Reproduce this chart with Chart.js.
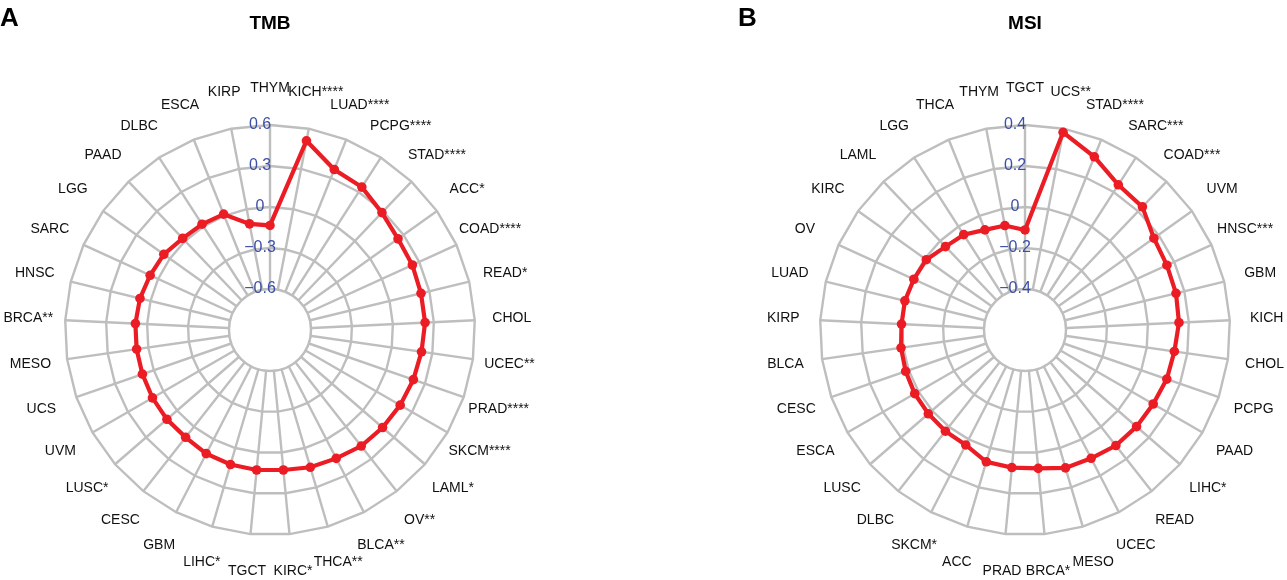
<!DOCTYPE html>
<html>
<head>
<meta charset="utf-8">
<script src="https://cdn.jsdelivr.net/npm/chart.js@4.4.0/dist/chart.umd.min.js"></script>
<style>
  body { margin: 0; background: #fff; font-family: "Liberation Sans", Arial, sans-serif; }
  #wrap { position: relative; width: 1287px; height: 580px; overflow: hidden; }
  .box { position: absolute; top: 0; height: 580px; }
  .tag { position: absolute; font-weight: bold; font-size: 26px; line-height: 26px; color: #000; }
  .ttl { position: absolute; font-weight: bold; font-size: 19px; line-height: 19px; color: #000; width: 200px; text-align: center; }
</style>
</head>
<body>
<div id="wrap">
  <div class="box" style="left:0;width:640px"><canvas id="grafTMB"></canvas></div>
  <div class="box" style="left:640px;width:647px"><canvas id="grafMSI"></canvas></div>
  <div class="tag" style="left:0;top:4px">A</div>
  <div class="tag" style="left:738px;top:4px">B</div>
  <div class="ttl" style="left:170px;top:13px">TMB</div>
  <div class="ttl" style="left:925px;top:13px">MSI</div>
</div>
<script>
// TMB
const categoriasTMB = ['THYM', 'KICH****', 'LUAD****', 'PCPG****', 'STAD****', 'ACC*', 'COAD****', 'READ*', 'CHOL',
    'UCEC**', 'PRAD****', 'SKCM****', 'LAML*', 'OV**', 'BLCA**', 'THCA**', 'KIRC*', 'TGCT', 'LIHC*', 'GBM', 'CESC',
    'LUSC*', 'UVM', 'UCS', 'MESO', 'BRCA**', 'HNSC', 'SARC', 'LGG', 'PAAD', 'DLBC', 'ESCA', 'KIRP'];
const valoresTMB = [-0.135, 0.51, 0.365, 0.343, 0.287, 0.25, 0.245, 0.237, 0.236, 0.22, 0.21, 0.2, 0.19, 0.18,
    0.157, 0.147, 0.129, 0.129, 0.126, 0.118, 0.099, 0.098, 0.093, 0.088, 0.086, 0.086, 0.079, 0.064, 0.054,
    0.026, 0.02, 0.013, -0.109];
const ticksTMB = [-0.6, -0.3, 0, 0.3, 0.6];
const rotulosTMB = ['\u22120.6', '\u22120.3', '0', '0.3', '0.6'];

// MSI
const categoriasMSI = ['TGCT', 'UCS**', 'STAD****', 'SARC***', 'COAD***', 'UVM', 'HNSC***', 'GBM', 'KICH', 'CHOL',
    'PCPG', 'PAAD', 'LIHC*', 'READ', 'UCEC', 'MESO', 'BRCA*', 'PRAD', 'ACC', 'SKCM*', 'DLBC', 'LUSC', 'ESCA',
    'CESC', 'BLCA', 'KIRP', 'LUAD', 'OV', 'KIRC', 'LAML', 'LGG', 'THCA', 'THYM'];
const valoresMSI = [-0.112, 0.382, 0.31, 0.242, 0.23, 0.172, 0.161, 0.158, 0.152, 0.136, 0.132, 0.122, 0.12, 0.117,
    0.104, 0.101, 0.078, 0.074, 0.07, 0.031, 0.028, 0.024, 0.021, 0.016, 0.011, 0.003, 0.003, -0.004, -0.009,
    -0.038, -0.047, -0.074, -0.081];
const ticksMSI = [-0.4, -0.2, 0, 0.2, 0.4];
const rotulosMSI = ['\u22120.4', '\u22120.2', '0', '0.2', '0.4'];

const CINZA = '#bebebe';
const VERMELHO = '#ec1c24';
const FONTE = '"Liberation Sans", Arial, sans-serif';

// buraco central, rotulos dos ticks e das categorias
const extrasRadar = {
    id: 'extrasRadar',
    beforeDatasetsDraw(chart, args, opts) {
        const s = chart.scales.r;
        const ctx = chart.ctx;
        const r = s.getDistanceFromCenterForValue(opts.buraco);
        ctx.save();
        ctx.beginPath();
        ctx.arc(s.xCenter, s.yCenter, r, 0, Math.PI * 2);
        ctx.fillStyle = '#fff';
        ctx.fill();
        ctx.lineWidth = 2.4;
        ctx.strokeStyle = CINZA;
        ctx.stroke();
        ctx.restore();
    },
    afterDatasetsDraw(chart, args, opts) {
        const s = chart.scales.r;
        const ctx = chart.ctx;
        ctx.save();
        ctx.textAlign = 'center';
        ctx.textBaseline = 'middle';
        ctx.font = '16px ' + FONTE;
        ctx.fillStyle = '#3b4ea8';
        opts.ticks.forEach((v, i) => {
            ctx.fillText(opts.rotulos[i], s.xCenter - 10, s.yCenter - s.getDistanceFromCenterForValue(v));
        });
        ctx.font = '14px ' + FONTE;
        ctx.fillStyle = '#111';
        chart.data.labels.forEach((lab, i) => {
            const p = s.getPointPosition(i, s.drawingArea + 37);
            ctx.fillText(lab, p.x, p.y);
        });
        ctx.restore();
    }
};

function grafico(id, categorias, valores, min, max, passo, ticks, rotulos, padding) {
    return new Chart(document.getElementById(id), {
        type: 'radar',
        data: {
            labels: categorias,
            datasets: [{
                data: valores,
                borderColor: VERMELHO,
                borderWidth: 4.2,
                backgroundColor: VERMELHO,
                pointBackgroundColor: VERMELHO,
                pointBorderColor: VERMELHO,
                pointBorderWidth: 0,
                pointRadius: 4.8,
                fill: false,
                tension: 0
            }]
        },
        options: {
            responsive: true,
            maintainAspectRatio: false,
            animation: false,
            layout: { padding: padding },
            plugins: {
                legend: { display: false },
                tooltip: { enabled: false },
                extrasRadar: { buraco: min + passo, ticks: ticks, rotulos: rotulos }
            },
            scales: {
                r: {
                    min: min,
                    max: max,
                    ticks: { stepSize: passo, display: false },
                    grid: { color: CINZA, lineWidth: 2.4 },
                    angleLines: { color: CINZA, lineWidth: 2.4 },
                    pointLabels: { display: false }
                }
            }
        },
        plugins: [extrasRadar]
    });
}

grafico('grafTMB', categoriasTMB, valoresTMB, -0.9, 0.6, 0.3, ticksTMB, rotulosTMB,
    { left: 65, right: 165, top: 125, bottom: 45 });
grafico('grafMSI', categoriasMSI, valoresMSI, -0.6, 0.4, 0.2, ticksMSI, rotulosMSI,
    { left: 180, right: 57, top: 125, bottom: 45 });
</script>
</body>
</html>
